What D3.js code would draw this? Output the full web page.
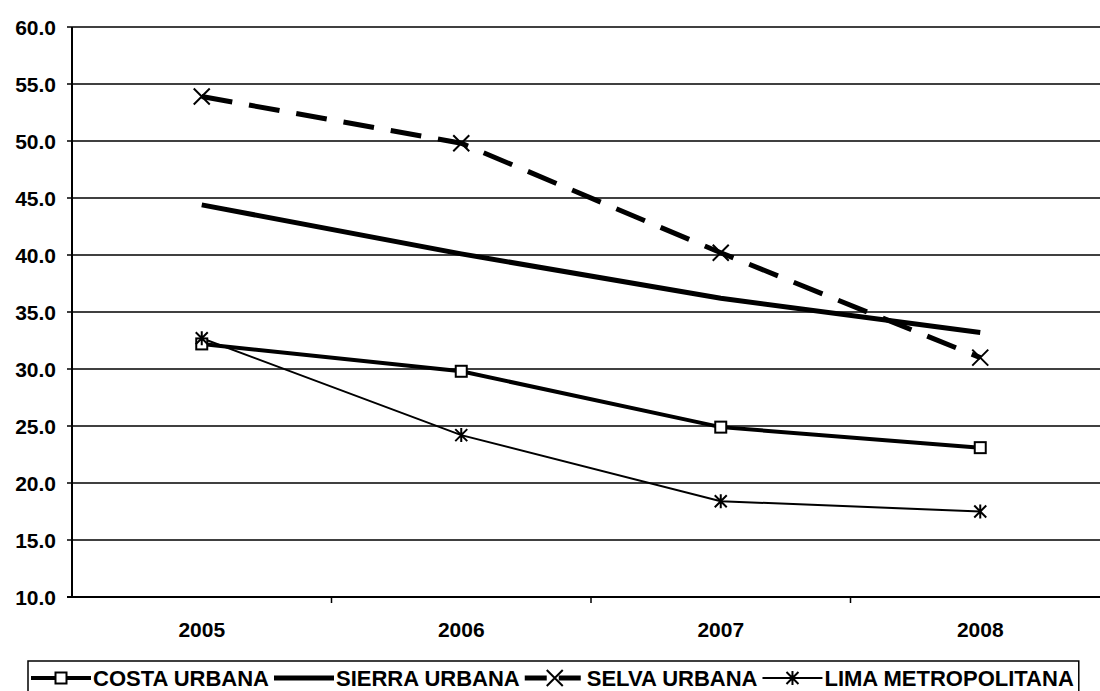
<!DOCTYPE html>
<html>
<head>
<meta charset="utf-8">
<script src="https://cdn.jsdelivr.net/npm/d3@7"></script>
<style>
  body { margin: 0; background: #fff; }
  text { font-family: "Liberation Sans", Arial, sans-serif; font-weight: bold; fill: #000; }
</style>
</head>
<body>
<div id="main"></div>
<script>
var width = 1100,
    height = 691;

// data
var years = ["2005", "2006", "2007", "2008"];
var costa = [32.2, 29.8, 24.9, 23.1];
var sierra = [44.4, 40.1, 36.2, 33.2];
var selva = [53.9, 49.8, 40.2, 31.0];
var lima = [32.7, 24.2, 18.4, 17.5];
var yTicks = [10, 15, 20, 25, 30, 35, 40, 45, 50, 55, 60];

var series = [
  { name: "COSTA URBANA", values: costa, width: 4, dash: null, marker: "square" },
  { name: "SIERRA URBANA", values: sierra, width: 5, dash: null, marker: null },
  { name: "SELVA URBANA", values: selva, width: 5, dash: "31,17", marker: "x" },
  { name: "LIMA METROPOLITANA", values: lima, width: 2, dash: null, marker: "star" }
];

var plotLeft = 72, plotTop = 27, plotBottom = 597, plotRight = 1110;

var svg = d3.select("#main").append("svg")
    .attr("width", width)
    .attr("height", height);

var x = d3.scaleBand().domain(years).range([plotLeft, plotRight]);
var y = d3.scaleLinear().domain([10, 60]).range([plotBottom, plotTop]);

// gridlines
svg.append("g")
  .selectAll("line")
  .data(yTicks)
  .enter().append("line")
    .attr("x1", plotLeft - 5).attr("x2", plotRight)
    .attr("y1", function(d) { return y(d); })
    .attr("y2", function(d) { return y(d); })
    .attr("stroke", "#000")
    .attr("stroke-width", function(d) { return d == 10 ? 2 : 1.5; });

// y axis line
svg.append("line")
  .attr("x1", plotLeft).attr("x2", plotLeft)
  .attr("y1", plotTop).attr("y2", plotBottom)
  .attr("stroke", "#000").attr("stroke-width", 2);

// y labels
svg.append("g")
  .selectAll("text")
  .data(yTicks)
  .enter().append("text")
    .attr("x", 56)
    .attr("y", function(d) { return y(d); })
    .attr("dy", "0.36em")
    .attr("text-anchor", "end")
    .style("font-size", "21px")
    .text(function(d) { return d.toFixed(1); });

// x ticks between categories
svg.append("g")
  .selectAll("line")
  .data(years.slice(1))
  .enter().append("line")
    .attr("x1", function(d) { return x(d); })
    .attr("x2", function(d) { return x(d); })
    .attr("y1", plotBottom).attr("y2", plotBottom + 6)
    .attr("stroke", "#000").attr("stroke-width", 1.5);

svg.append("g")
  .selectAll("text")
  .data(years)
  .enter().append("text")
    .attr("x", function(d) { return x(d) + x.bandwidth() / 2; })
    .attr("y", 637)
    .attr("text-anchor", "middle")
    .style("font-size", "21px")
    .text(function(d) { return d; });

var line = d3.line()
  .x(function(d, i) { return x(years[i]) + x.bandwidth() / 2; })
  .y(function(d) { return y(d); });

function drawMarker(g, type, cx, cy) {
  if (type == "square") {
    g.append("rect")
      .attr("x", cx - 5.5).attr("y", cy - 5.5)
      .attr("width", 11).attr("height", 11)
      .attr("fill", "#fff").attr("stroke", "#000").attr("stroke-width", 2);
  } else if (type == "x") {
    g.append("path")
      .attr("d", "M" + (cx - 8) + "," + (cy - 8) + "L" + (cx + 8) + "," + (cy + 8) +
                 "M" + (cx - 8) + "," + (cy + 8) + "L" + (cx + 8) + "," + (cy - 8))
      .attr("stroke", "#000").attr("stroke-width", 2).attr("fill", "none");
  } else if (type == "star") {
    g.append("path")
      .attr("d", "M" + (cx - 6) + "," + (cy - 6) + "L" + (cx + 6) + "," + (cy + 6) +
                 "M" + (cx - 6) + "," + (cy + 6) + "L" + (cx + 6) + "," + (cy - 6) +
                 "M" + cx + "," + (cy - 7) + "L" + cx + "," + (cy + 7))
      .attr("stroke", "#000").attr("stroke-width", 2).attr("fill", "none");
  }
}

var plot = svg.append("g");

series.forEach(function(s) {
  plot.append("path")
    .datum(s.values)
    .attr("d", line)
    .attr("fill", "none")
    .attr("stroke", "#000")
    .attr("stroke-width", s.width)
    .attr("stroke-dasharray", s.dash);
});

series.forEach(function(s) {
  if (!s.marker) return;
  s.values.forEach(function(v, i) {
    drawMarker(plot, s.marker, x(years[i]) + x.bandwidth() / 2, y(v));
  });
});

// legend
var lg = svg.append("g");
var lx = 28, ly = 661, lh = 32;
var box = lg.append("rect")
  .attr("x", lx).attr("y", ly)
  .attr("height", lh)
  .attr("fill", "#fff").attr("stroke", "#000").attr("stroke-width", 1.5);

var cursor = lx + 3;
var my = ly + 17;
series.forEach(function(s) {
  var sw = 60;
  lg.append("line")
    .attr("x1", cursor).attr("x2", cursor + sw)
    .attr("y1", my).attr("y2", my)
    .attr("stroke", "#000")
    .attr("stroke-width", s.width)
    .attr("stroke-dasharray", s.dash ? "22,12" : null);
  drawMarker(lg, s.marker, cursor + sw / 2, my);
  var t = lg.append("text")
    .attr("x", cursor + sw + 2)
    .attr("y", my)
    .attr("dy", "0.36em")
    .style("font-size", "22px")
    .text(s.name);
  cursor += sw + 2 + t.node().getComputedTextLength() + 5;
});
box.attr("width", cursor - lx);
</script>
</body>
</html>
